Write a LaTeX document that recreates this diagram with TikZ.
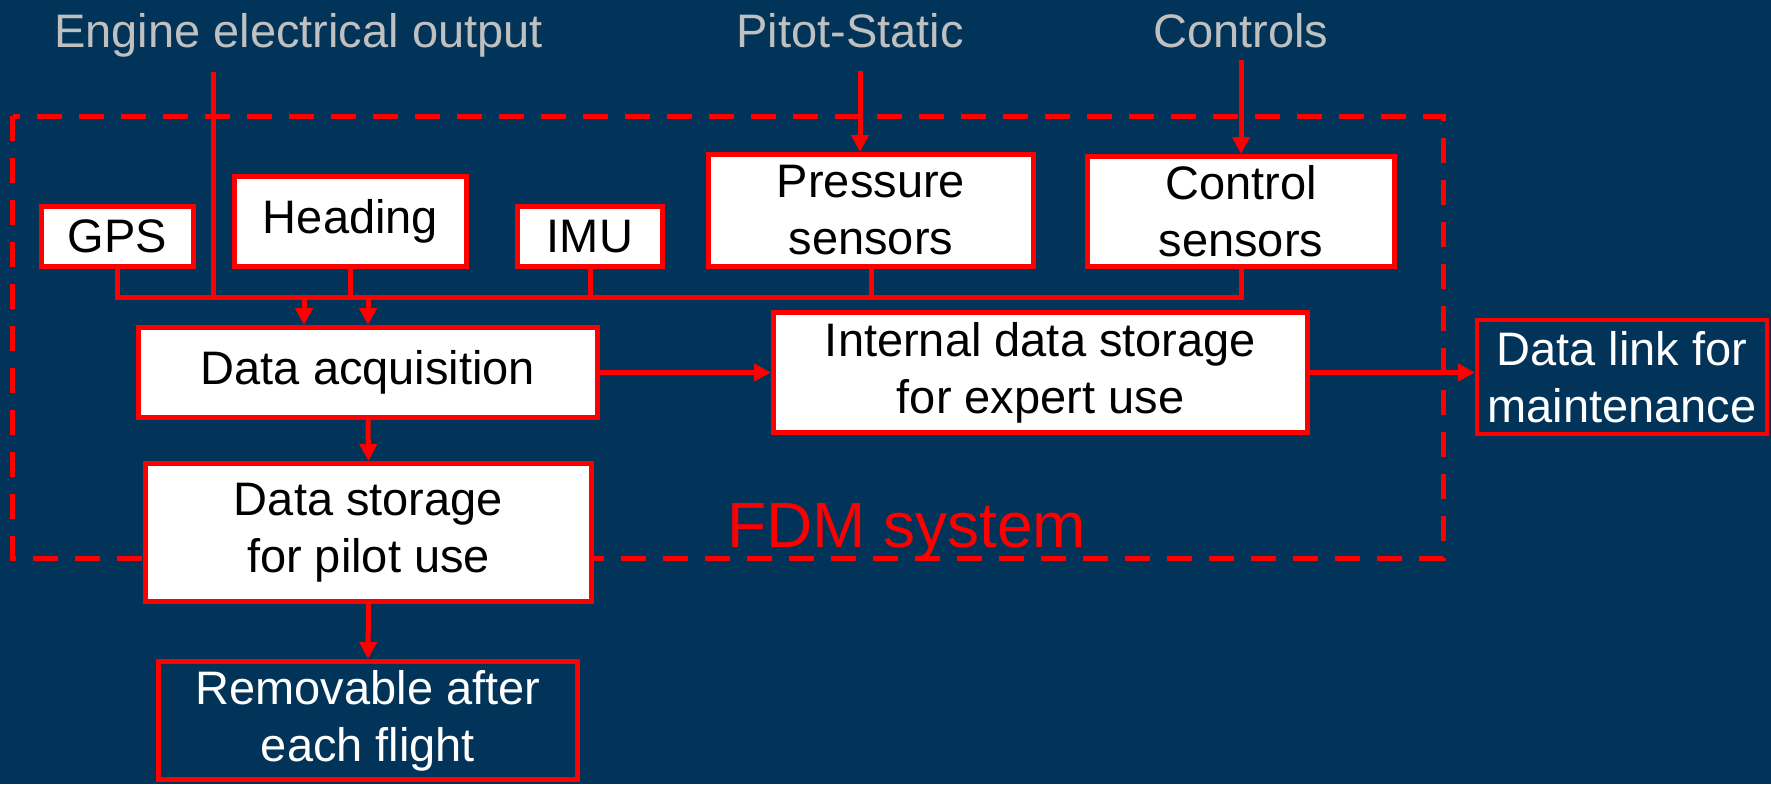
\documentclass[tikz,border=0pt]{standalone}
\usepackage{fontspec}
\setmainfont{Liberation Sans}
\usetikzlibrary{arrows.meta}
\definecolor{bg}{RGB}{2,52,90}
\definecolor{lbl}{RGB}{192,192,192}
\definecolor{fdmred}{RGB}{255,0,0}
\newcommand{\bfs}{\fontsize{47pt}{57pt}\selectfont}
\newcommand{\tfs}{\fontsize{64pt}{70pt}\selectfont}
\tikzset{
  box/.style={draw=fdmred, line width=5pt, fill=white, text=black, inner sep=0pt, align=center, font=\bfs},
  darkbox/.style={box, fill=bg, text=white},
  toplbl/.style={text=lbl, inner sep=0pt, anchor=base, font=\bfs},
  conn/.style={draw=fdmred, line width=5pt},
  arr/.style={conn, -{Triangle[length=17pt,width=17pt]}},
  fdmbox/.style={draw=fdmred, line width=5pt, dash pattern=on 25pt off 17pt}
}
\begin{document}
\begin{tikzpicture}[x=1pt,y=-1pt]
\fill[bg] (0,0) rectangle (1771,784);
\useasboundingbox (0,0) rectangle (1771,784);

% FDM system dashed boundary
\draw[fdmbox] (12.5,116) rectangle (1443,558);
\node[text=fdmred, font=\tfs, inner sep=0pt, anchor=base west] (fdm) at (727,547) {FDM system};

% top labels
\node[toplbl] (engl) at (298.5,48) {Engine electrical output};
\node[toplbl] (pitl) at (850,48) {Pitot-Static};
\node[toplbl] (ctll) at (1241,48) {Controls};

% sensor boxes
\node[box, minimum width=152pt, minimum height=60pt] (gps) at (117.5,236.5) {GPS};
\node[box, minimum width=232pt, minimum height=90pt] (head) at (350.5,221.5) {Heading};
\node[box, minimum width=145pt, minimum height=60pt] (imu) at (590,236.5) {IMU};
\node[box, minimum width=325pt, minimum height=112pt] (press) at (871,210.5) {Pressure\\sensors};
\node[box, minimum width=307pt, minimum height=110pt] (ctrl) at (1241,211.5) {Control\\sensors};

% processing boxes
\node[box, minimum width=459pt, minimum height=90pt] (acq) at (368,372.5) {Data acquisition};
\node[box, minimum width=534pt, minimum height=120pt] (intl) at (1040.5,372.5) {Internal data storage\\for expert use};
\node[darkbox, line width=4pt, minimum width=290pt, minimum height=114pt] (link) at (1622,377) {Data link for\\maintenance};
\node[box, minimum width=446pt, minimum height=138pt] (stor) at (368.5,532.5) {Data storage\\for pilot use};
\node[darkbox, minimum width=419pt, minimum height=118pt] (remv) at (368,720.5) {Removable after\\each flight};

% coordinates
\coordinate (engtop) at (213.5,72);
\coordinate (engbot) at (213.5,299.5);
\coordinate (busR) at (1241,297);
\coordinate (busL) at (118,297);
\coordinate (a1) at (304,297);
\coordinate (a2) at (368,297);
\coordinate (pit) at (860,71);
\coordinate (ctl) at (1241,60);

% bus
\draw[conn] (gps.south) |- (busR) -- (ctrl.south);
\draw[conn] (head.south) -- (head.south |- busL);
\draw[conn] (imu.south) -- (imu.south |- busL);
\draw[conn] (press.south) -- (press.south |- busL);
\draw[conn] (engtop) -- (engbot);

% arrows
\draw[arr] (a1) -- (a1 |- acq.north);
\draw[arr] (a2) -- (a2 |- acq.north);
\draw[arr] (pit) -- (pit |- press.north);
\draw[arr] (ctl) -- (ctrl.north);
\draw[arr] (acq.east) -- (intl.west);
\draw[arr] (intl.east) -- (intl.east -| link.west);
\draw[arr] (acq.south) -- (stor.north);
\draw[arr] (stor.south) -- (remv.north);
\end{tikzpicture}
\end{document}
